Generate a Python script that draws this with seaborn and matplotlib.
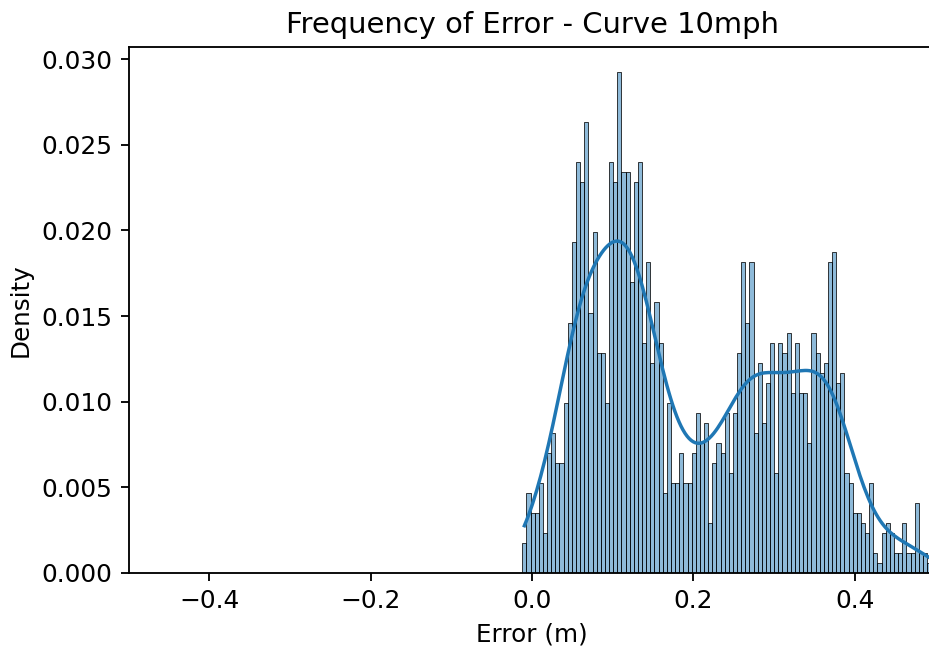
import numpy as np
import pandas as pd
import matplotlib
matplotlib.use("Agg")
import matplotlib.pyplot as plt
import seaborn as sns

# Histogram bins (x axis, metres)
bin_start = -0.012
bin_width = 0.00512

# Number of samples per bin (left to right)
counts = [
    3, 8, 6, 6, 9, 4, 12, 14, 11, 11,
    17, 25, 33, 41, 39, 45, 26, 34, 22, 22,
    17, 41, 39, 50, 40, 40, 29, 39, 41, 23,
    31, 21, 27, 23, 8, 17, 9, 9, 12, 9,
    9, 12, 16, 13, 15, 5, 11, 13, 12, 16,
    10, 16, 22, 31, 25, 31, 14, 21, 15, 19,
    23, 10, 23, 22, 24, 18, 23, 18, 18, 13,
    24, 22, 20, 21, 31, 32, 19, 20, 10, 9,
    6, 6, 5, 4, 9, 2, 1, 4, 5, 4,
    2, 2, 5, 2, 2, 7, 2, 2, 1,
]

x_limits = (-0.5, 0.5)
title = "Frequency of Error - Curve 10mph"
x_label = "Error (m)"
y_label = "Density"

edges = bin_start + bin_width * np.arange(len(counts) + 1)
centers = (edges[:-1] + edges[1:]) / 2
errors = np.repeat(centers, counts)
df = pd.DataFrame({"error": errors})

plt.rcParams.update({
    "xtick.labelsize": 10.8,
    "ytick.labelsize": 10.8,
    "axes.labelsize": 10.7,
    "axes.titlesize": 12.6,
})

DPI = 166
fig = plt.figure(figsize=(929 / DPI, 649 / DPI), dpi=DPI)
ax = fig.add_axes([128.7 / 929, 1 - 573 / 649, 806.6 / 929, 526 / 649])
sns.histplot(data=df, x="error", bins=edges, stat="probability", kde=True, ax=ax)
ax.set_xlim(*x_limits)
ax.set_title(title)
ax.set_xlabel(x_label)
ax.set_ylabel(y_label)
fig.savefig("out.png", dpi=DPI)
